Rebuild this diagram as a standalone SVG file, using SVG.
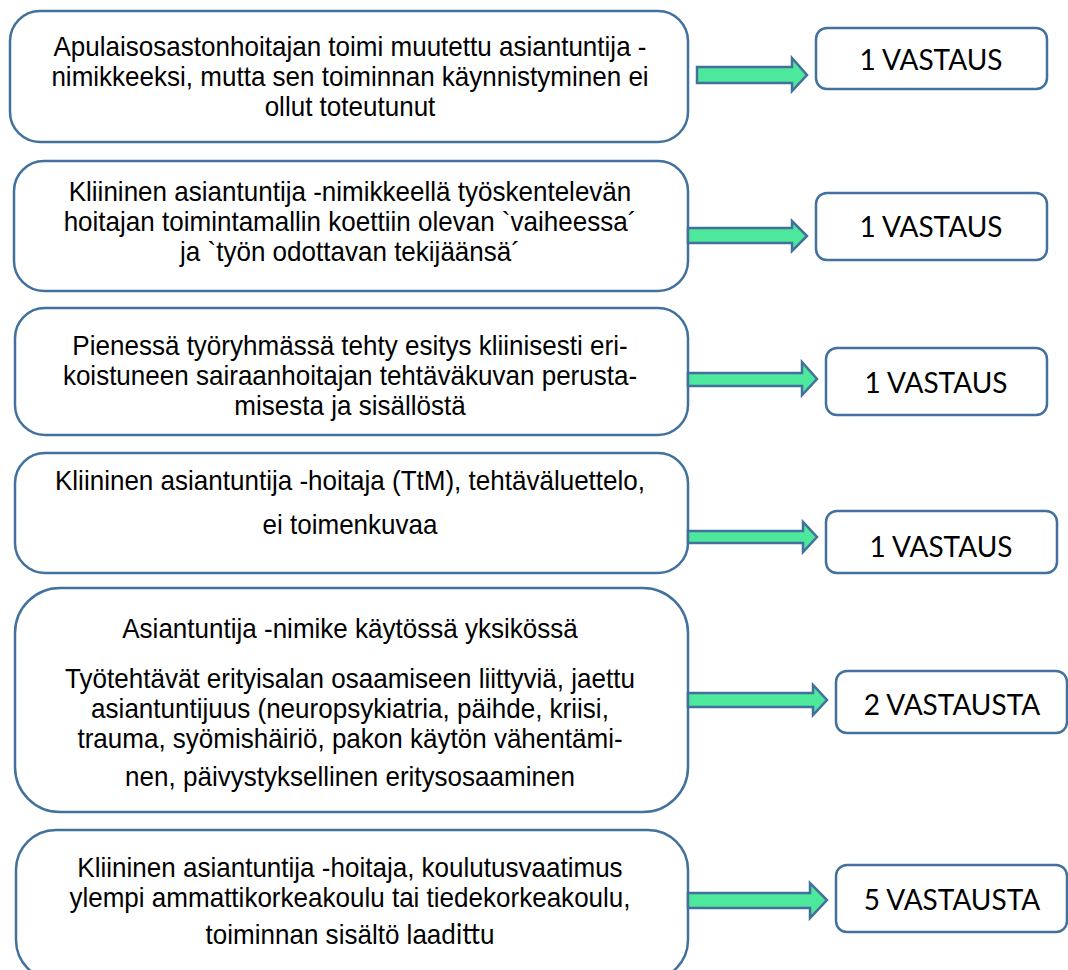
<svg xmlns="http://www.w3.org/2000/svg" width="1068" height="970" viewBox="0 0 1068 970">
<style>
.box{fill:#fff;stroke:#41719c;stroke-width:2.5}
.t{font-family:"Liberation Sans",Arial,sans-serif;font-size:28px;fill:#000;text-anchor:middle}
.r{font-family:Lato,"Open Sans",sans-serif;font-size:28px;fill:#000;text-anchor:middle}
.arr{fill:#4de89c;stroke:#41719c;stroke-width:2.5;stroke-linejoin:miter}
</style>
<rect x="0" y="0" width="1068" height="970" fill="#fff"/>
<g id="n1"><rect class="box" x="10" y="11" width="678" height="131" rx="30"/>
<g transform="translate(350 0) scale(0.93 1)">
<text class="t" x="0" y="56">Apulaisosastonhoitajan toimi muutettu asiantuntija -</text>
<text class="t" x="0" y="86">nimikkeeksi, mutta sen toiminnan käynnistyminen ei</text>
<text class="t" x="0" y="116">ollut toteutunut</text></g></g>
<g id="r1"><rect class="box" x="816" y="28" width="231" height="61" rx="11"/><text class="r" x="931" y="70">1 VASTAUS</text></g>

<g id="n2"><rect class="box" x="14" y="161" width="674" height="130" rx="30"/>
<g transform="translate(350 0) scale(0.93 1)">
<text class="t" x="0" y="201">Kliininen asiantuntija -nimikkeellä työskentelevän</text>
<text class="t" x="0" y="231">hoitajan toimintamallin koettiin olevan `vaiheessa´</text>
<text class="t" x="0" y="261">ja `työn odottavan tekijäänsä´</text></g></g>
<g id="r2"><rect class="box" x="816" y="193" width="231" height="67" rx="11"/><text class="r" x="931" y="237">1 VASTAUS</text></g>

<g id="n3"><rect class="box" x="15" y="308" width="673" height="127" rx="30"/>
<g transform="translate(350 0) scale(0.93 1)">
<text class="t" x="0" y="355">Pienessä työryhmässä tehty esitys kliinisesti eri-</text>
<text class="t" x="0" y="385">koistuneen sairaanhoitajan tehtäväkuvan perusta-</text>
<text class="t" x="0" y="415">misesta ja sisällöstä</text></g></g>
<g id="r3"><rect class="box" x="826" y="348" width="221" height="67" rx="11"/><text class="r" x="936" y="393">1 VASTAUS</text></g>

<g id="n4"><rect class="box" x="15" y="453" width="673" height="120" rx="30"/>
<g transform="translate(350 0) scale(0.93 1)">
<text class="t" x="0" y="490">Kliininen asiantuntija -hoitaja (TtM), tehtäväluettelo,</text>
<text class="t" x="0" y="534">ei toimenkuvaa</text></g></g>
<g id="r4"><rect class="box" x="826" y="511" width="231" height="62" rx="11"/><text class="r" x="941" y="557">1 VASTAUS</text></g>

<g id="n5"><rect class="box" x="15" y="588" width="673" height="224" rx="45"/>
<g transform="translate(350 0) scale(0.93 1)">
<text class="t" x="0" y="638">Asiantuntija -nimike käytössä yksikössä</text>
<text class="t" x="0" y="688">Työtehtävät erityisalan osaamiseen liittyviä, jaettu</text>
<text class="t" x="0" y="718">asiantuntijuus (neuropsykiatria, päihde, kriisi,</text>
<text class="t" x="0" y="748">trauma, syömishäiriö, pakon käytön vähentämi-</text>
<text class="t" x="0" y="786">nen, päivystyksellinen eritysosaaminen</text></g></g>
<g id="r5"><rect class="box" x="836" y="671" width="231" height="62" rx="11"/><text class="r" x="952" y="715">2 VASTAUSTA</text></g>

<g id="n6"><rect class="box" x="16" y="830" width="672" height="150" rx="40"/>
<g transform="translate(350 0) scale(0.93 1)">
<text class="t" x="0" y="877">Kliininen asiantuntija -hoitaja, koulutusvaatimus</text>
<text class="t" x="0" y="907">ylempi ammattikorkeakoulu tai tiedekorkeakoulu,</text>
<text class="t" x="0" y="944">toiminnan sisältö laa<tspan font-family="Lato,sans-serif" font-size="28px">dittu</tspan></text></g></g>
<g id="r6"><rect class="box" x="836" y="865" width="231" height="67" rx="11"/><text class="r" x="952" y="910">5 VASTAUSTA</text></g>

<g id="connectors">
<polygon class="arr" points="697,67 792,67 792,58 807,75 792,91 792,83 697,83"/>
<polygon class="arr" points="688,228 792,228 792,221 807,236 792,251 792,243 688,243"/>
<polygon class="arr" points="688,373 802,373 802,362 817,379 802,395 802,386 688,386"/>
<polygon class="arr" points="688,531 803,531 803,522 817,537 803,552 803,543 688,543"/>
<polygon class="arr" points="688,693 813,693 813,685 827,700 813,715 813,707 688,707"/>
<polygon class="arr" points="688,893 810,893 810,883 827,900 810,918 810,908 688,908"/>
</g>
</svg>
